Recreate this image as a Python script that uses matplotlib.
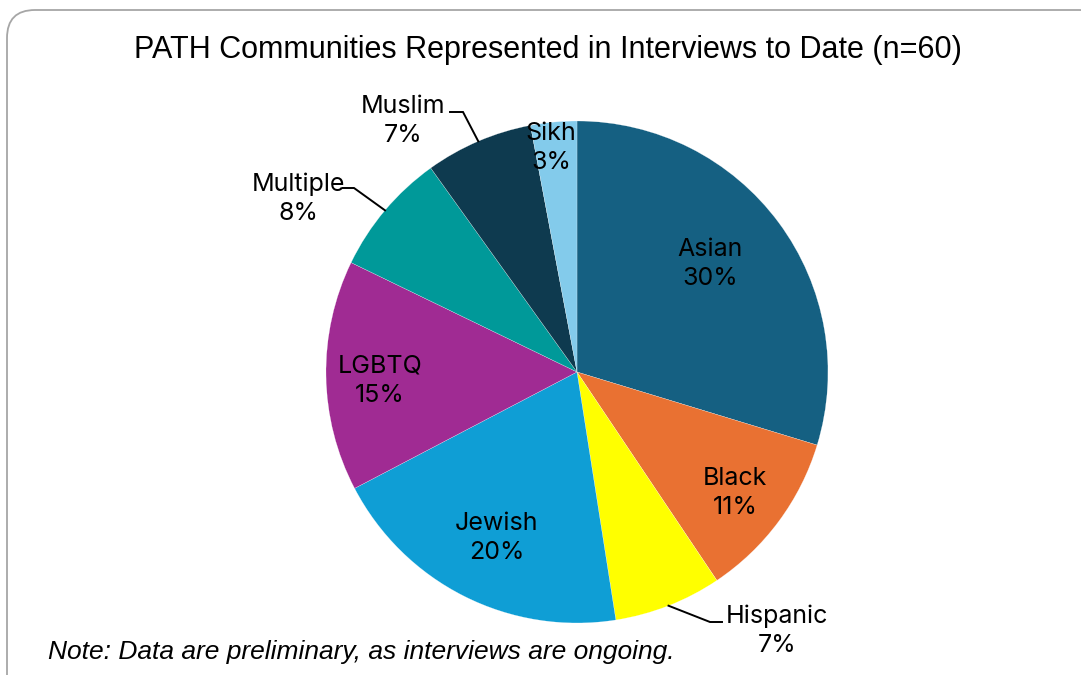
import matplotlib.pyplot as plt
import numpy as np
from matplotlib.patches import FancyBboxPatch

# data (percent of interviews)
communities = ['Asian', 'Black', 'Hispanic', 'Jewish', 'LGBTQ', 'Multiple', 'Muslim', 'Sikh']
shares = [30, 11, 7, 20, 15, 8, 7, 3]
colors = ['#156082', '#E97132', '#FFFF00', '#0F9ED5', '#A02B93', '#009999', '#0E3A4F', '#83CBEB']

title = 'PATH Communities Represented in Interviews to Date (n=60)'
note = 'Note: Data are preliminary, as interviews are ongoing.'

W, H = 1081, 675
fig = plt.figure(figsize=(W / 100, H / 100), dpi=100)
ax = fig.add_axes([0, 0, 1, 1])

cx, cy, r = 577, H - 372, 251
wedges, _ = ax.pie(shares, colors=colors, startangle=90, counterclock=False,
                   radius=r, center=(cx, cy), frame=True,
                   wedgeprops=dict(edgecolor='white', linewidth=0.15))
ax.set_xlim(0, W)
ax.set_ylim(0, H)
ax.set_aspect('equal')
ax.axis('off')

# rounded chart frame (cropped at right and bottom)
frame = FancyBboxPatch((7, -40), 1100, H - 10 + 40,
                       boxstyle='round,pad=0,rounding_size=28',
                       fc='white', ec='#a6a6a6', lw=1.3, zorder=0)
ax.add_patch(frame)

lab_font = dict(family='Inter', fontsize=18, color='black', ha='center', va='center',
                linespacing=1.35)

# label placement: (text x, text y) in pixels; leader elbow for outside labels
inside = {'Asian': (710, 264), 'Black': (735, 493), 'Jewish': (497, 538),
          'LGBTQ': (380, 381), 'Sikh': (551, 148)}
outside = {'Hispanic': ((777, 631), (710, 622), (722, 622)),
           'Multiple': ((298, 199), (354, 188), (343, 188)),
           'Muslim': ((403, 121), (463, 112), (450, 112))}

for w, name, val in zip(wedges, communities, shares):
    txt = f'{name}\n{val}%'
    if name in inside:
        x, y = inside[name]
        ax.text(x, H - y, txt, **lab_font)
    else:
        (tx, ty), (ex, ey), (hx, hy) = outside[name]
        mid = np.deg2rad((w.theta1 + w.theta2) / 2)
        px, py = cx + r * np.cos(mid), cy + r * np.sin(mid)
        ax.plot([px, ex, hx], [py, H - ey, H - hy], color='black', lw=1.4,
                solid_joinstyle='miter', zorder=3)
        ax.text(tx, H - ty, txt, **lab_font)

ax.text(548, H - 50, title, family='Liberation Sans', fontsize=22,
        ha='center', va='center', color='black')
ax.text(48, H - 652, note, family='Liberation Sans', style='italic', fontsize=19,
        ha='left', va='center', color='black')

fig.savefig('out.png', dpi=100)
